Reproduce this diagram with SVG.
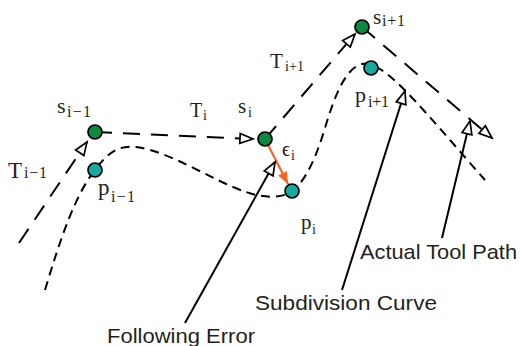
<svg xmlns="http://www.w3.org/2000/svg" width="520" height="346" viewBox="0 0 520 346">
<style>
.ln{fill:none;stroke:#000;stroke-width:2}
.ld{stroke-dasharray:17 11}
.sd{stroke-dasharray:9 6}
.s{fill:#0d8a3f;stroke:#000;stroke-width:1.7}
.p{fill:#18aaa0;stroke:#000;stroke-width:1.7}
.m{font-family:"Liberation Serif","Times New Roman",serif;fill:#231f20}
.t{font-family:"Liberation Sans",Arial,sans-serif;fill:#231f20;font-size:21px}
</style>
<defs>
<marker id="oa" markerUnits="userSpaceOnUse" markerWidth="16" markerHeight="12" refX="13" refY="5" orient="auto" overflow="visible">
<path d="M0,0 L13,5 L0,10 Z" fill="#fff" stroke="#000" stroke-width="1.7" stroke-linejoin="miter"/>
</marker>
<marker id="or" markerUnits="userSpaceOnUse" markerWidth="14" markerHeight="12" refX="12" refY="5" orient="auto" overflow="visible">
<path d="M0,0 L12,5 L0,10 Z" fill="#f26522"/>
</marker>
</defs>
<g id="connectors">
<line id="T_im1" class="ln ld" x1="19" y1="243" x2="87" y2="142" marker-end="url(#oa)"/>
<line id="T_i" class="ln ld" x1="95" y1="132" x2="253" y2="139" marker-end="url(#oa)"/>
<line id="T_ip1" class="ln ld" x1="265" y1="139" x2="355" y2="34" marker-end="url(#oa)"/>
<line id="T_ip2" class="ln ld" x1="362" y1="27" x2="492" y2="138" marker-end="url(#oa)"/>
<path id="subdiv" class="ln sd" d="M45,290 C60,240 75,195 95,170 C108,152 120,145 135,147 C168,150 215,182 246,192 C263,198 282,199 292,191 C305,182 316,158 325,128 C334,98 345,68 362,64 C370,62 375,66 383,71 C405,86 445,135 485,180"/>
<line id="err" x1="265" y1="139" x2="288" y2="184" stroke="#f26522" stroke-width="2.2" marker-end="url(#or)"/>
<line id="lead_fe" class="ln" x1="185" y1="323" x2="275" y2="162" marker-end="url(#oa)"/>
<line id="lead_sc" class="ln" x1="342" y1="290" x2="405" y2="91" marker-end="url(#oa)"/>
<line id="lead_atp" class="ln" x1="442" y1="238" x2="470" y2="121" marker-end="url(#oa)"/>
</g>
<g id="s_im1">
<circle class="s" cx="95" cy="132" r="7"/>
<text class="m" x="57" y="113" font-size="22">s</text>
<text class="m" x="67" y="117" font-size="16" textLength="24" lengthAdjust="spacing">i−1</text>
</g>
<g id="p_im1">
<circle class="p" cx="95" cy="170" r="7"/>
<text class="m" x="98" y="195" font-size="23">p</text>
<text class="m" x="111" y="202" font-size="16" textLength="24" lengthAdjust="spacing">i−1</text>
</g>
<g id="label_T_im1">
<text class="m" x="8" y="178" font-size="23">T</text>
<text class="m" x="24" y="178" font-size="16" textLength="23" lengthAdjust="spacing">i−1</text>
</g>
<g id="label_T_i">
<text class="m" x="190" y="117" font-size="20">T</text>
<text class="m" x="203" y="120" font-size="14">i</text>
</g>
<g id="s_i">
<circle class="s" cx="265" cy="139" r="7"/>
<text class="m" x="238" y="113" font-size="21">s</text>
<text class="m" x="248" y="117" font-size="14">i</text>
</g>
<g id="label_eps">
<text class="m" x="282" y="156" font-size="20">ϵ</text>
<text class="m" x="291" y="160" font-size="14">i</text>
</g>
<g id="p_i">
<circle class="p" cx="292" cy="191" r="7"/>
<text class="m" x="301" y="229" font-size="21">p</text>
<text class="m" x="312" y="234" font-size="14">i</text>
</g>
<g id="label_T_ip1">
<text class="m" x="270" y="68" font-size="21">T</text>
<text class="m" x="285" y="71" font-size="15" textLength="19" lengthAdjust="spacingAndGlyphs">i+1</text>
</g>
<g id="s_ip1">
<circle class="s" cx="362" cy="27" r="7"/>
<text class="m" x="373" y="24" font-size="21">s</text>
<text class="m" x="382" y="26" font-size="16" textLength="23" lengthAdjust="spacing">i+1</text>
</g>
<g id="p_ip1">
<circle class="p" cx="371" cy="68" r="7"/>
<text class="m" x="355" y="102" font-size="22">p</text>
<text class="m" x="368" y="107" font-size="16" textLength="21" lengthAdjust="spacing">i+1</text>
</g>
<g id="label_following_error">
<text class="t" x="107" y="343" textLength="148" lengthAdjust="spacingAndGlyphs">Following Error</text>
</g>
<g id="label_subdivision_curve">
<text class="t" x="255" y="310" textLength="182" lengthAdjust="spacingAndGlyphs">Subdivision Curve</text>
</g>
<g id="label_actual_tool_path">
<text class="t" x="360" y="259" textLength="157" lengthAdjust="spacingAndGlyphs">Actual Tool Path</text>
</g>
</svg>
